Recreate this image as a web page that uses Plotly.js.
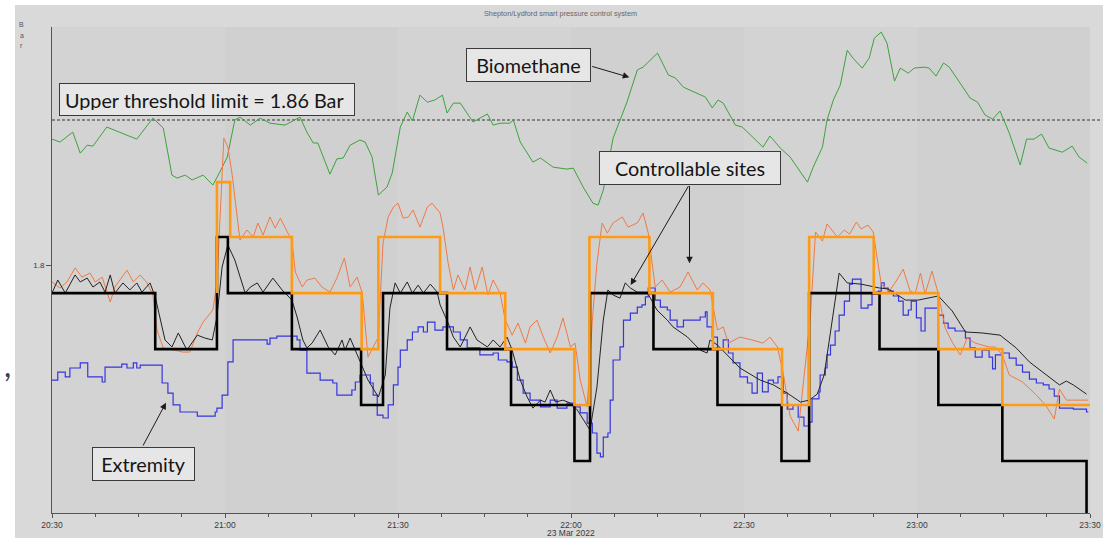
<!DOCTYPE html>
<html>
<head>
<meta charset="utf-8">
<script src="https://cdn.plot.ly/plotly-3.0.1.min.js"></script>
<style>
html,body{margin:0;padding:0;background:#fff;}
#chart{width:1106px;height:538px;}
</style>
</head>
<body>
<div id="chart"></div>
<script>
// ---- data (times in minutes after 20:30 on 23 Mar 2022, values in Bar) ----
const chartTitle = "Shepton/Lydford smart pressure control system";
const yUnit = "Bar";
const dateLabel = "23 Mar 2022";
const upperThreshold = 1.86;
const tickMinutes = [0, 30, 60, 90, 120, 150, 180];
const tickLabels = ["20:30", "21:00", "21:30", "22:00", "22:30", "23:00", "23:30"];
const yTickValues = [1.8];
const yTickLabels = ["1.8"];

// Biomethane (green)
const bioT = [0,1.4,3.6,4.9,6.1,7.1,9.5,11.8,14.7,17.5,19.3,20.8,21.7,23.1,24.3,26.2,27.9,29.1,30.4,31.7,32.6,34.4,36.1,37.8,40.4,43.0,44.2,45.3,46.1,48.2,49.4,50.5,51.7,53.4,54.3,55.5,56.6,58.1,59.0,60.4,61.6,62.5,63.8,65.1,66.4,67.7,68.5,69.6,70.8,73.0,75.5,76.5,77.7,79.4,80.0,81.2,83.4,84.7,86.9,89.3,90.4,92.1,93.8,94.7,95.6,97.3,98.5,99.7,101.5,102.5,105.0,106.9,108.1,109.5,113.3,114.5,115.5,116.4,118.5,119.7,123.3,124.5,126.3,128.0,131.0,132.0,133.6,134.4,135.5,136.7,137.9,138.9,140.5,141.7,142.6,143.8,144.8,146.1,147.1,148.5,149.5,151.3,152.1,153.3,154.6,155.6,158.4,159.2,160.5,161.8,163.1,164.4,166.0,167.9,169.0,170.3,171.6,172.9,175.2,176.9,178.1,179.5];
const bioV = [1.8521,1.8509,1.8550,1.8463,1.8496,1.8492,1.8571,1.8550,1.8521,1.8608,1.8567,1.8372,1.8360,1.8372,1.8352,1.8372,1.8331,1.8385,1.8447,1.8600,1.8612,1.8579,1.8608,1.8587,1.8579,1.8612,1.8550,1.8505,1.8505,1.8376,1.8439,1.8443,1.8496,1.8517,1.8509,1.8447,1.8290,1.8323,1.8381,1.8571,1.8633,1.8596,1.8703,1.8674,1.8683,1.8703,1.8629,1.8670,1.8670,1.8592,1.8625,1.8579,1.8587,1.8587,1.8600,1.8509,1.8426,1.8443,1.8405,1.8397,1.8401,1.8323,1.8256,1.8248,1.8310,1.8525,1.8600,1.8674,1.8807,1.8819,1.8877,1.8786,1.8774,1.8736,1.8695,1.8650,1.8683,1.8670,1.8579,1.8571,1.8488,1.8534,1.8484,1.8447,1.8343,1.8405,1.8488,1.8600,1.8683,1.8745,1.8889,1.8856,1.8815,1.8856,1.8939,1.8964,1.8918,1.8761,1.8815,1.8794,1.8815,1.8819,1.8815,1.8782,1.8836,1.8819,1.8720,1.8691,1.8674,1.8621,1.8604,1.8637,1.8546,1.8414,1.8521,1.8521,1.8542,1.8484,1.8467,1.8492,1.8447,1.8422];

// Extremity (blue, stepped)
const extT = [0,1.0,2.3,3.1,4.9,6.2,8.7,9.2,12.1,13.0,14.1,14.7,15.3,19.1,20.1,21.0,22.2,25.2,28.3,28.6,29.5,30.5,31.4,37.3,37.8,39.0,42.5,43.0,44.2,46.5,48.7,49.4,52.0,52.6,53.4,55.2,55.7,56.4,57.4,58.3,59.2,60.0,60.4,61.6,62.5,63.5,64.4,65.1,66.4,67.8,69.6,70.8,72.0,74.2,76.5,77.4,78.9,79.8,80.7,81.7,82.9,84.7,86.4,87.6,89.3,90.4,91.6,92.8,93.7,94.5,95.1,95.6,96.4,96.8,97.3,98.5,99.1,100.3,101.5,102.3,102.9,103.4,104.6,105.5,106.7,107.2,108.4,109.5,112.4,113.3,113.6,114.5,115.4,116.4,117.3,118.1,119.3,120.6,121.4,122.3,123.2,124.2,125.1,125.9,126.8,127.5,128.5,129.4,130.4,131.3,131.8,133.0,133.2,134.1,134.4,135.0,135.8,136.5,137.4,138.3,138.8,140.3,141.5,142.2,143.3,143.8,144.3,145.0,145.9,146.8,147.6,148.5,149.0,149.9,150.7,151.4,153.7,154.6,155.4,156.6,158.4,159.2,160.1,161.3,162.5,163.1,163.6,164.8,166.0,167.2,168.3,169.5,170.7,171.9,172.9,173.8,174.7,177.1,179.4,179.7];
const extV = [1.7524,1.7557,1.7537,1.7574,1.7595,1.7537,1.7516,1.7578,1.7590,1.7574,1.7595,1.7574,1.7586,1.7512,1.7470,1.7421,1.7392,1.7375,1.7392,1.7408,1.7462,1.7599,1.7690,1.7673,1.7698,1.7706,1.7690,1.7648,1.7553,1.7524,1.7512,1.7462,1.7483,1.7516,1.7545,1.7512,1.7462,1.7379,1.7367,1.7421,1.7504,1.7578,1.7648,1.7690,1.7723,1.7744,1.7723,1.7764,1.7731,1.7744,1.7723,1.7690,1.7657,1.7628,1.7636,1.7607,1.7599,1.7578,1.7524,1.7470,1.7441,1.7413,1.7441,1.7408,1.7429,1.7413,1.7388,1.7346,1.7305,1.7222,1.7206,1.7288,1.7305,1.7441,1.7607,1.7661,1.7772,1.7801,1.7826,1.7835,1.7868,1.7905,1.7855,1.7826,1.7814,1.7772,1.7744,1.7772,1.7785,1.7806,1.7744,1.7702,1.7648,1.7690,1.7636,1.7595,1.7537,1.7512,1.7470,1.7553,1.7475,1.7524,1.7512,1.7537,1.7470,1.7404,1.7421,1.7371,1.7334,1.7350,1.7446,1.7475,1.7545,1.7574,1.7628,1.7669,1.7727,1.7793,1.7851,1.7921,1.7942,1.7822,1.7835,1.7880,1.7892,1.7926,1.7905,1.7892,1.7872,1.7851,1.7793,1.7814,1.7851,1.7781,1.7727,1.7822,1.7793,1.7760,1.7739,1.7727,1.7698,1.7657,1.7619,1.7648,1.7619,1.7570,1.7628,1.7636,1.7615,1.7586,1.7557,1.7528,1.7512,1.7504,1.7487,1.7458,1.7408,1.7404,1.7392,1.7392];

// Controllable site A measured (thin orange)
const siteAT = [0,1.4,2.6,4.0,5.2,6.6,7.5,8.7,10.1,10.9,13.0,14.1,15.3,16.5,17.5,18.2,19.3,21.0,22.7,23.9,25.2,26.2,27.9,28.6,29.8,30.5,31.2,32.6,33.8,34.9,35.7,36.6,37.8,38.7,39.6,40.8,41.6,42.2,43.4,44.2,45.6,46.8,48.2,49.4,50.7,51.7,52.9,53.8,54.8,55.7,56.6,57.4,58.3,59.2,60.0,60.9,61.8,62.6,63.8,65.1,65.9,67.3,67.8,68.7,69.6,70.4,71.6,72.5,73.4,74.6,75.6,76.5,77.7,78.6,79.8,80.8,82.1,82.9,84.1,85.2,86.4,87.6,88.6,89.9,90.7,91.6,92.8,93.7,94.5,95.4,96.3,97.3,98.9,99.9,101.5,102.5,103.4,104.6,105.8,107.2,108.9,110.3,111.9,112.9,114.1,115.4,116.4,117.3,119.3,121.4,123.3,124.5,125.8,126.8,128.0,129.4,130.6,131.5,132.4,133.6,134.4,136.2,137.4,138.3,139.5,140.3,141.5,142.4,143.8,145.2,146.4,147.6,148.8,149.7,150.6,151.4,152.6,153.7,154.9,156.1,157.5,158.7,160.1,162.5,163.6,164.8,166.0,168.3,170.7,172.4,173.8,174.7,175.9,179.7];
const siteAV = [1.7930,1.7905,1.7930,1.7988,1.7950,1.7967,1.7930,1.7950,1.7847,1.7909,1.7979,1.7930,1.7959,1.7926,1.7876,1.7731,1.7657,1.7648,1.7640,1.7640,1.7719,1.7764,1.7814,1.7926,1.8525,1.8488,1.8381,1.8103,1.8145,1.8116,1.8174,1.8124,1.8199,1.8153,1.8194,1.8137,1.8103,1.7971,1.7909,1.7938,1.7946,1.7909,1.7888,1.7946,1.8029,1.7909,1.7950,1.7884,1.7619,1.7661,1.7702,1.8091,1.8199,1.8240,1.8256,1.8194,1.8199,1.8228,1.8157,1.8240,1.8256,1.8215,1.8157,1.8008,1.7897,1.7959,1.7897,1.7992,1.7897,1.7992,1.7876,1.7938,1.7884,1.7772,1.7710,1.7760,1.7677,1.7744,1.7772,1.7702,1.7636,1.7702,1.7781,1.7661,1.7677,1.7524,1.7413,1.7772,1.8008,1.8174,1.8132,1.8174,1.8199,1.8157,1.8174,1.8215,1.8132,1.7909,1.7938,1.7888,1.7909,1.7971,1.7897,1.7926,1.7897,1.7731,1.7744,1.7677,1.7702,1.7690,1.7677,1.7702,1.7661,1.7553,1.7375,1.7313,1.7574,1.7781,1.8137,1.8099,1.8170,1.8116,1.8145,1.8128,1.8178,1.8149,1.8165,1.8137,1.7921,1.7892,1.7934,1.7983,1.7892,1.7884,1.7967,1.7880,1.7975,1.7880,1.7739,1.7681,1.7628,1.7698,1.7677,1.7661,1.7661,1.7628,1.7545,1.7516,1.7462,1.7417,1.7363,1.7487,1.7441,1.7441];

// Controllable site B measured (thin black)
const siteBT = [0,1.0,2.3,4.0,4.9,6.1,7.1,8.3,9.2,10.1,10.9,12.3,13.5,14.7,15.6,17.0,17.9,19.6,20.8,21.9,23.4,25.2,26.5,27.8,28.6,29.5,30.5,31.7,33.5,34.4,35.6,36.6,38.3,39.9,41.6,42.5,43.5,44.2,45.1,46.5,47.9,49.1,50.3,50.8,51.7,52.6,53.4,54.8,56.6,57.8,58.6,59.5,60.4,61.6,62.5,63.5,64.4,65.6,66.8,67.3,68.7,69.6,70.8,72.5,73.7,75.5,76.5,77.7,78.9,79.8,81.2,82.4,83.4,84.7,85.5,86.4,87.3,88.6,89.9,91.1,93.3,94.5,95.6,96.4,97.3,98.5,99.4,100.3,101.5,103.2,104.9,106.7,107.7,110.2,112.4,113.6,114.1,115.4,119.3,122.8,125.1,127.5,129.8,131.3,132.7,133.9,135.0,136.5,137.9,140.3,143.5,145.0,148.0,150.2,153.7,156.1,158.4,161.3,164.4,167.2,169.5,172.4,174.7,175.9,177.1,179.4];
const siteBV = [1.7884,1.7938,1.7884,1.7959,1.7930,1.7946,1.7909,1.7930,1.7888,1.7959,1.7884,1.7926,1.7897,1.7926,1.7888,1.7926,1.7868,1.7690,1.7661,1.7719,1.7648,1.7710,1.7698,1.7690,1.7785,1.7992,1.8083,1.8021,1.7884,1.7909,1.7926,1.7888,1.7946,1.7897,1.7855,1.7785,1.7690,1.7657,1.7677,1.7731,1.7661,1.7628,1.7690,1.7648,1.7698,1.7648,1.7607,1.7524,1.7454,1.7545,1.7822,1.7926,1.7884,1.7930,1.7884,1.7917,1.7884,1.7921,1.7888,1.7835,1.7760,1.7702,1.7661,1.7744,1.7690,1.7661,1.7690,1.7661,1.7702,1.7648,1.7524,1.7454,1.7408,1.7441,1.7433,1.7483,1.7433,1.7441,1.7429,1.7400,1.7317,1.7495,1.7772,1.7897,1.7876,1.7863,1.7926,1.7905,1.7888,1.7888,1.7814,1.7772,1.7744,1.7702,1.7648,1.7636,1.7690,1.7669,1.7574,1.7524,1.7504,1.7470,1.7433,1.7441,1.7466,1.7545,1.7723,1.7967,1.7926,1.7921,1.7905,1.7901,1.7855,1.7855,1.7872,1.7810,1.7723,1.7719,1.7710,1.7657,1.7599,1.7545,1.7504,1.7520,1.7504,1.7466];

// Set point site A (thick orange, stepped)
const setAT = [28.6,28.6,30.9,41.6,53.7,56.6,67.3,78.6,90.6,93.2,103.6,114.6,126.6,131.3,142.5,153.7,164.8,180];
const setAV = [1.7884,1.8343,1.8116,1.7884,1.7652,1.8116,1.7884,1.7652,1.7421,1.8116,1.7884,1.7652,1.7421,1.8116,1.7884,1.7652,1.7421,1.7421];

// Set point site B (thick black, stepped)
const setBT = [0,17.9,28.6,30.5,41.6,53.6,57.4,68.5,79.6,90.6,93.3,104.3,115.4,126.5,131.3,143.5,153.7,164.8,179.4,180];
const setBV = [1.7884,1.7652,1.8116,1.7884,1.7652,1.7421,1.7884,1.7652,1.7421,1.7189,1.7884,1.7652,1.7421,1.7189,1.7884,1.7652,1.7421,1.7189,1.69,1.69];

// ---- helpers ----
function pad(n){return String(n).padStart(2,'0');}
function tdate(m){
  const s = Math.round((20*60+30)*60 + m*60);
  const hh = Math.floor(s/3600), mm = Math.floor((s%3600)/60), ss = s%60;
  return `2022-03-23 ${pad(hh)}:${pad(mm)}:${pad(ss)}`;
}
const D = arr => arr.map(tdate);

// plot-area geometry in page pixels
const L = 52, R = 1090, T = 27, B = 513;
const W = R - L, H = B - T;
const px = x => (x - L) / W;
const py = y => (B - y) / H;

const traces = [
  {x: D(bioT), y: bioV, mode: 'lines', line: {color: '#3da23d', width: 1}, name: 'Biomethane'},
  {x: D(extT), y: extV, mode: 'lines', line: {color: '#3535e0', width: 1.2, shape: 'hv'}, name: 'Extremity'},
  {x: D(siteAT), y: siteAV, mode: 'lines', line: {color: '#ef7a45', width: 1}, name: 'Site A'},
  {x: D(siteBT), y: siteBV, mode: 'lines', line: {color: '#222222', width: 1}, name: 'Site B'},
  {x: D(setBT), y: setBV, mode: 'lines', line: {color: '#000000', width: 2.6, shape: 'hv'}, name: 'Set point B'},
  {x: D(setAT), y: setAV, mode: 'lines', line: {color: '#ff9a14', width: 2.6, shape: 'hv'}, name: 'Set point A'}
];

const minorVals = [];
for (let m = 7.5; m < 180; m += 7.5) { if (m % 30 !== 0) minorVals.push(tdate(m)); }

const shapes = [
  {type:'rect', xref:'paper', yref:'paper', x0:px(15), x1:px(1103), y0:py(538), y1:py(5), fillcolor:'#d9d9d9', line:{width:0}, layer:'below'},
  {type:'rect', xref:'paper', yref:'paper', x0:0, x1:1, y0:0, y1:1, fillcolor:'#d3d3d3', line:{width:0}, layer:'below'},
];
[30, 90, 150].forEach(m => shapes.push({type:'rect', xref:'x', yref:'paper', x0:tdate(m), x1:tdate(m+30), y0:0, y1:1, fillcolor:'#d0d0d0', line:{width:0}, layer:'below'}));
shapes.push({type:'line', xref:'paper', yref:'y', x0:0, x1:px(1102), y0:upperThreshold, y1:upperThreshold, line:{color:'#6a6a6a', width:1.4, dash:'3px,2px'}, layer:'below'});

const boxFont = {family:'Lato, "Open Sans", sans-serif', size:19.8, color:'#151515'};
const boxStyle = {showarrow:false, font:boxFont, borderpad:5, bgcolor:'#e6e6e6', bordercolor:'#3a3a3a', borderwidth:1, xanchor:'center', yanchor:'middle', xref:'paper', yref:'paper'};
const annotations = [
  {xref:'paper', yref:'paper', x:px(560), y:py(13), text:chartTitle, showarrow:false, font:{family:'Liberation Sans, Arial, sans-serif', size:7.3, color:'#666'}, xanchor:'center', yanchor:'middle'},
  {xref:'paper', yref:'paper', x:px(7), y:py(364), text:',', showarrow:false, font:{family:'Lato, sans-serif', size:32, color:'#34445c'}, xanchor:'center', yanchor:'middle'},
  {xref:'x', yref:'paper', x:tdate(90), y:py(533), text:dateLabel, showarrow:false, font:{family:'Liberation Sans, Arial, sans-serif', size:8.5, color:'#3a3a3a'}, xanchor:'center', yanchor:'middle'},
  Object.assign({x:px(207), y:py(99.4), text:'Upper threshold limit = 1.86 Bar', align:'left', width:284, height:21}, boxStyle),
  Object.assign({x:px(528.3), y:py(65.3), text:'Biomethane', width:113, height:22}, boxStyle),
  Object.assign({x:px(690), y:py(167.5), text:'Controllable sites', width:170, height:22}, boxStyle),
  Object.assign({x:px(143.5), y:py(464), text:'Extremity', width:91, height:22}, boxStyle),
];
// arrows: [tailX, tailY, headX, headY] in page px
const arrows = [[590.7,66,629.3,77.3],[689.3,184.6,630.7,285],[689.5,184.6,689.5,263.3],[142.3,447,166,402.7]];
arrows.forEach(a => annotations.push({xref:'paper', yref:'paper', x:px(a[2]), y:py(a[3]), ax:a[0]-a[2], ay:a[1]-a[3], text:'', showarrow:true, arrowhead:2, arrowsize:1.3, arrowwidth:1, arrowcolor:'#1a1a1a', standoff:0, startstandoff:0}));
// stacked unit letters
yUnit.split('').forEach((ch, i) => annotations.push({xref:'paper', yref:'paper', x:px(21.5), y:py(25 + i*10), text:ch, showarrow:false, font:{family:'Liberation Sans, Arial, sans-serif', size:7, color:'#555'}, xanchor:'center', yanchor:'middle'}));

const layout = {
  width:1106, height:538,
  margin:{l:L, r:1106-R, t:T, b:538-B, pad:0},
  paper_bgcolor:'#ffffff', plot_bgcolor:'rgba(0,0,0,0)',
  showlegend:false,
  xaxis:{type:'date', range:[tdate(0), tdate(180)], tickmode:'array', tickvals:D(tickMinutes), ticktext:tickLabels,
    showgrid:false, zeroline:false, showline:true, linecolor:'#555', linewidth:1, ticks:'outside', ticklen:4, tickcolor:'#555',
    tickfont:{family:'Liberation Sans, Arial, sans-serif', size:8.5, color:'#3a3a3a'}, automargin:false, fixedrange:true,
    minor:{tickmode:'array', tickvals:minorVals, ticks:'outside', ticklen:3, tickcolor:'#555', showgrid:false}},
  yaxis:{range:[1.6974, 1.8985], tickmode:'array', tickvals:yTickValues, ticktext:yTickLabels,
    showgrid:false, zeroline:false, showline:true, linecolor:'#555', linewidth:1, ticks:'outside', ticklen:5, tickcolor:'#555',
    tickfont:{family:'Liberation Sans, Arial, sans-serif', size:8, color:'#3a3a3a'}, automargin:false, fixedrange:true},
  shapes:shapes,
  annotations:annotations
};

Plotly.newPlot('chart', traces, layout, {displayModeBar:false, staticPlot:true});
</script>
</body>
</html>
